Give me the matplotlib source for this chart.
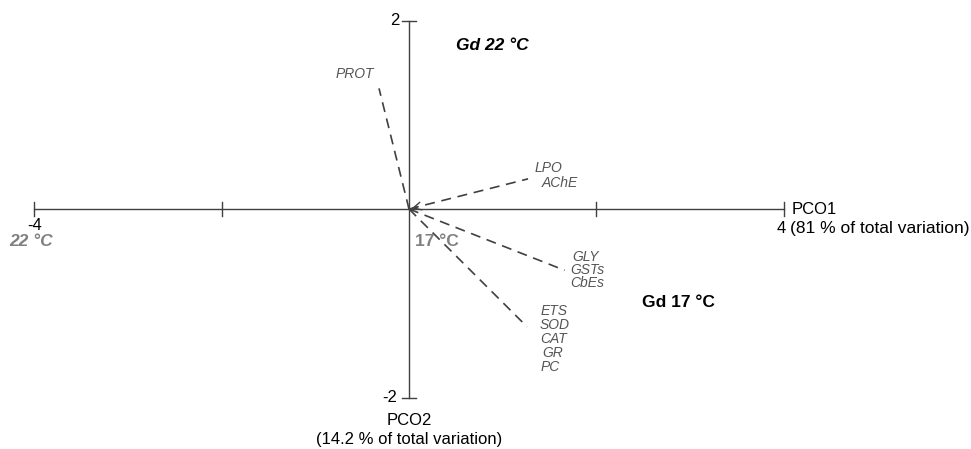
import matplotlib
matplotlib.use("Agg")
import matplotlib.pyplot as plt

plt.rcParams['font.family'] = ['Liberation Sans', 'DejaVu Sans']

# vector end points (PCO1, PCO2)
vec_x = [-0.32, 1.27, 1.66, 1.26]
vec_y = [1.28, 0.32, -0.65, -1.25]

# variable labels and where they sit
var_labels = ["PROT", "LPO", "AChE", "GLY", "GSTs", "CbEs",
              "ETS", "SOD", "CAT", "GR", "PC"]
var_x = [-0.58, 1.49, 1.61, 1.88, 1.90, 1.90,
         1.55, 1.55, 1.54, 1.53, 1.51]
var_y = [1.43, 0.44, 0.28, -0.51, -0.65, -0.79,
         -1.08, -1.23, -1.38, -1.53, -1.68]

xticks = [-4, -2, 2, 4]
yticks = [-2, 2]

fig = plt.figure(figsize=(9.71, 4.49), dpi=100)
ax = fig.add_axes([0, 0, 1, 1])
ax.set_xlim(-4.363, 5.995)
ax.set_ylim(-2.546, 2.2175)
ax.axis('off')

axc = '#404040'
ax.plot([-4, 4], [0, 0], color=axc, lw=1)
ax.plot([0, 0], [-2, 2], color=axc, lw=1)
for t in xticks:
    ax.plot([t, t], [-0.075, 0.075], color=axc, lw=1)
for t in yticks:
    ax.plot([-0.07, 0.07], [t, t], color=axc, lw=1)

# dashed vectors
for vx, vy in zip(vec_x, vec_y):
    ax.plot([0, vx], [0, vy], color='#404040', lw=1.2, ls=(0, (6, 4)))
ax.annotate('', xy=(0, 0), xytext=(0.12, 0.03),
            arrowprops=dict(arrowstyle='->', color='#404040', lw=1, mutation_scale=14))

lc = '#555555'
for lx, ly, s in zip(var_x, var_y, var_labels):
    ax.text(lx, ly, s, fontsize=10, style='italic', color=lc,
            ha='center', va='center')

# tick labels
ax.text(-3.99, -0.175, "-4", fontsize=12, ha='center', va='center', color='black')
ax.text(-0.10, 2.0, "2", fontsize=12, ha='right', va='center', color='black')
ax.text(-0.13, -2.0, "-2", fontsize=12, ha='right', va='center', color='black')

# axis titles
ax.text(4.08, 0.0, "PCO1", fontsize=12, ha='left', va='center')
ax.text(4.06, -0.21, "(81 % of total variation)", fontsize=12.5, ha='left', va='center')
ax.text(4.02, -0.21, "4", fontsize=12, ha='right', va='center')
ax.text(0.0, -2.24, "PCO2", fontsize=12, ha='center', va='center')
ax.text(0.0, -2.44, "(14.2 % of total variation)", fontsize=12, ha='center', va='center')

# group labels
ax.text(0.885, 1.74, "Gd 22 °C", fontsize=12.5, weight='bold', style='italic', ha='center', va='center')
ax.text(2.87, -0.99, "Gd 17 °C", fontsize=12.5, weight='bold', ha='center', va='center')
ax.text(-4.03, -0.34, "22 °C", fontsize=12.5, weight='bold', style='italic', color='#808080',
        ha='center', va='center')
ax.text(0.30, -0.34, "17 °C", fontsize=12.5, weight='bold', color='#808080',
        ha='center', va='center')

fig.savefig("out.png", dpi=100)
